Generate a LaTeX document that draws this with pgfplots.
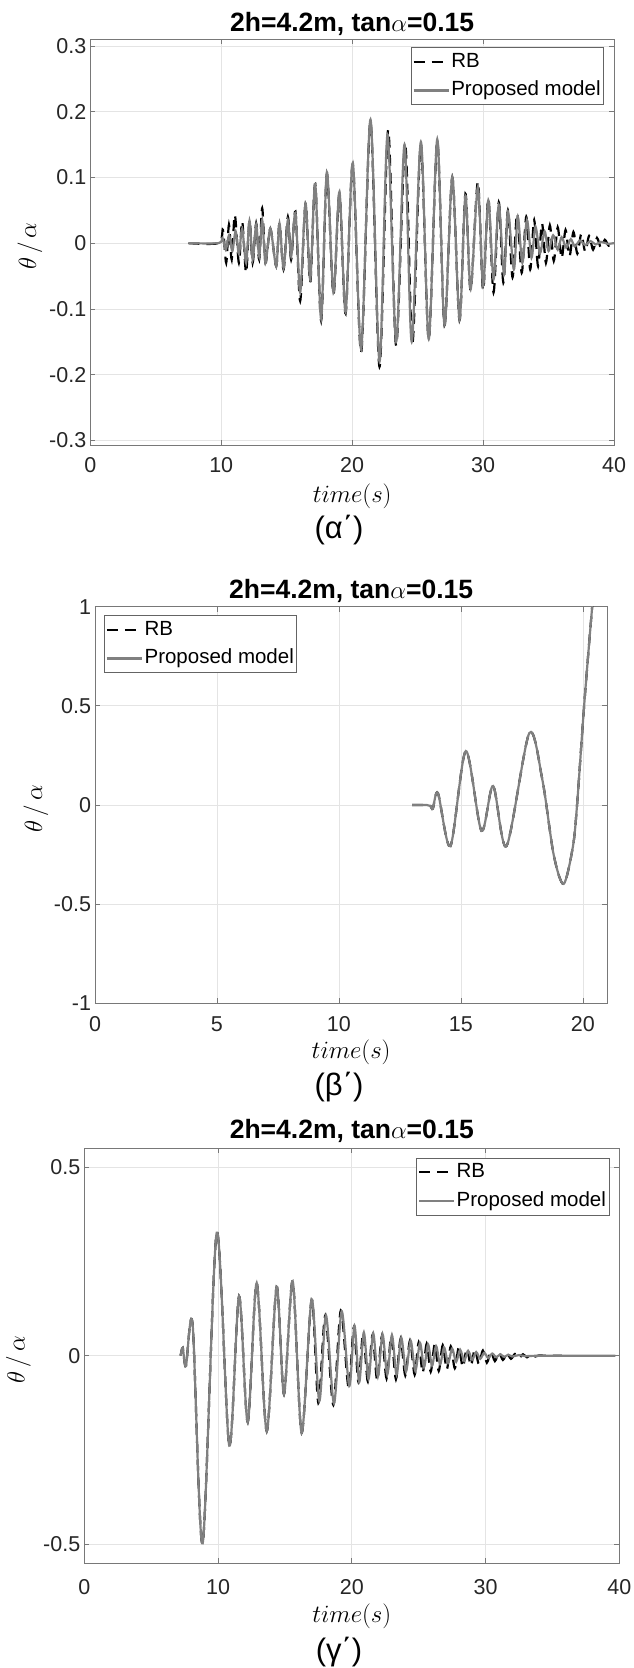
\documentclass[border=0pt]{standalone}
\usepackage{fontspec}
\setmainfont{Liberation Sans}
\usepackage{pgfplots}
\pgfplotsset{compat=1.18}
\definecolor{axgray}{RGB}{120,120,120}
\definecolor{gridgray}{RGB}{228,228,228}
\definecolor{tickcol}{RGB}{38,38,38}
\definecolor{propgray}{RGB}{128,128,128}
\definecolor{leggray}{RGB}{100,100,100}
\pgfplotsset{
  every axis title/.style={at={(axis description cs:0.5,1)}, anchor=base, font=\fontsize{26.5}{30}\selectfont\bfseries},
  every axis x label/.style={at={(axis description cs:0.5,0)}, anchor=center},
  every axis y label/.style={at={(axis description cs:-0.115,0.5)}, anchor=center, rotate=90},
  panel/.style={
    scale only axis, anchor=south west, clip=true,
    axis line style={draw=axgray, line width=0.8pt},
    every tick/.style={draw=axgray, line width=0.7pt},
    tick align=inside, major tick length=5pt,
    xmajorgrids, ymajorgrids,
    major grid style={draw=gridgray, line width=0.7pt},
    tick label style={font=\fontsize{21.5}{25}\selectfont, text=tickcol},
    yticklabel style={xshift=-0.5pt},
    label style={font=\fontsize{23.5}{28}\selectfont},
    legend style={font=\fontsize{20.5}{24}\selectfont, draw=leggray, line width=0.8pt,
      inner xsep=1.5pt, inner ysep=3pt, row sep=6pt, cells={anchor=west},
      nodes={inner sep=1.5pt, text height=15pt, text depth=4.5pt}},
    legend image code/.code={\draw[##1] (0pt,0pt) -- (35pt,0pt);},
    legend cell align=left,
    xlabel={$time(s)$}, ylabel={$\theta\,/\,\alpha$},
    title={2h=4.2m, tan$\alpha$=0.15},
  },
  rb/.style={black, line width=2.2pt, dash pattern=on 11pt off 7pt, smooth},
  pm/.style={propgray, line width=2.2pt, smooth},
}
\begin{document}
\begin{tikzpicture}
\useasboundingbox (0pt,0pt) rectangle (634pt,1668pt);
% ---------------- panel 1 ----------------
\begin{axis}[panel, at={(90.3pt,1223pt)}, width=523.7pt, height=405.7pt,
  xmin=0, xmax=40, ymin=-0.307, ymax=0.31,
  xtick={0,10,20,30,40}, xticklabels={0,10,20,30,40},
  ytick={-0.3,-0.2,-0.1,0,0.1,0.2,0.3}, yticklabels={-0.3,-0.2,-0.1,0,0.1,0.2,0.3},
  xticklabel style={anchor=base, yshift=-27.8pt},
  xlabel style={yshift=-51pt},
  ylabel style={at={(axis description cs:-0.1151,0.49)}},
  title style={yshift=7.5pt},
  legend style={at={(1,1)}, anchor=north east, xshift=-10pt, yshift=-8pt}]
\addplot[rb] coordinates {(7.5,0)(9.8,0)(10.13,0.02)(10.38,-0.03)(10.59,0.028)(10.8,-0.025)(11.04,0.043)(11.35,-0.03)(11.6,0.033)(11.9,-0.045)(12.16,0.035)(12.4,-0.03)(12.67,0.03)(12.9,-0.025)(13.13,0.053)(13.38,-0.03)(13.75,0.022)(14.2,-0.035)(14.45,0.03)(14.76,-0.04)(15.09,0.04)(15.34,-0.025)(15.67,0.048)(16.03,-0.088)(16.44,0.06)(16.8,-0.06)(17.18,0.09)(17.63,-0.118)(18.07,0.105)(18.57,-0.078)(19.03,0.075)(19.5,-0.107)(20.05,0.12)(20.69,-0.166)(21.4,0.185)(22.09,-0.188)(22.75,0.172)(23.36,-0.156)(24.05,0.15)(24.6,-0.153)(25.25,0.15)(25.85,-0.146)(26.5,0.155)(27.05,-0.125)(27.65,0.1)(28.2,-0.117)(28.65,0.075)(29.05,-0.072)(29.6,0.093)(30.0,-0.072)(30.4,0.068)(30.8,-0.075)(31.2,0.062)(31.55,-0.06)(31.9,0.05)(32.25,-0.052)(32.6,0.045)(32.95,-0.045)(33.3,0.04)(33.6,-0.04)(33.9,0.035)(34.2,-0.035)(34.5,0.03)(34.8,-0.03)(35.1,0.027)(35.4,-0.027)(35.7,0.024)(36.0,-0.023)(36.3,0.02)(36.6,-0.02)(36.9,0.017)(37.2,-0.016)(37.5,0.014)(37.8,-0.013)(38.1,0.011)(38.4,-0.01)(38.7,0.008)(39.0,-0.007)(39.3,0.005)(39.6,-0.004)(40,0)};
\addlegendentry{RB}
\addplot[pm] coordinates {(7.5,0)(9.8,0)(10.1,0.008)(10.35,-0.01)(10.6,0.012)(10.85,-0.012)(11.1,0.018)(11.35,-0.016)(11.6,0.022)(11.9,-0.03)(12.16,0.034)(12.4,-0.025)(12.67,0.028)(12.9,-0.02)(13.13,0.035)(13.38,-0.03)(13.75,0.022)(14.2,-0.035)(14.45,0.03)(14.76,-0.038)(15.09,0.035)(15.34,-0.02)(15.67,0.046)(16.03,-0.075)(16.44,0.06)(16.8,-0.055)(17.18,0.09)(17.63,-0.115)(18.07,0.108)(18.57,-0.075)(19.03,0.078)(19.5,-0.105)(20.05,0.122)(20.69,-0.161)(21.4,0.188)(22.09,-0.18)(22.7,0.165)(23.36,-0.15)(24.0,0.15)(24.55,-0.15)(25.25,0.154)(25.85,-0.146)(26.5,0.158)(27.05,-0.124)(27.65,0.1)(28.2,-0.116)(28.65,0.072)(29.05,-0.07)(29.6,0.085)(30.0,-0.065)(30.4,0.065)(30.8,-0.055)(31.2,0.058)(31.6,-0.048)(31.9,0.048)(32.35,-0.04)(32.65,0.04)(33.0,-0.03)(33.35,0.035)(33.7,-0.022)(34.0,0.025)(34.35,-0.015)(34.7,0.018)(35.0,-0.012)(35.35,0.012)(35.7,-0.01)(36.0,0.009)(36.35,-0.007)(36.7,0.006)(37.0,-0.005)(37.4,0.004)(37.8,-0.003)(38.2,0.003)(38.6,-0.002)(39.0,0.002)(39.5,-0.001)(40,0)};
\addlegendentry{Proposed model}
\end{axis}
% ---------------- panel 2 ----------------
\begin{axis}[panel, at={(95pt,664.7pt)}, width=512.3pt, height=396.6pt,
  xmin=0, xmax=21, ymin=-1, ymax=1,
  xtick={0,5,10,15,20}, xticklabels={0,5,10,15,20},
  ytick={-1,-0.5,0,0.5,1}, yticklabels={-1,-0.5,0,0.5,1},
  xticklabel style={anchor=base, yshift=-28.4pt},
  xlabel style={yshift=-49pt},
  ylabel style={at={(axis description cs:-0.1154,0.49)}},
  title style={yshift=7.7pt},
  legend style={at={(0,1)}, anchor=north west, xshift=9pt, yshift=-8.6pt}]
\addplot[rb] coordinates {(13.0,0)(13.6,0)(13.75,-0.005)(13.85,-0.018)(14.06,0.059)(14.57,-0.207)(15.2,0.272)(15.84,-0.13)(16.32,0.096)(16.87,-0.207)(17.8,0.362)(18.34,0.126)(18.8,-0.25)(19.21,-0.398)(19.59,-0.21)(19.76,0)(20.05,0.5)(20.38,1.0)(20.6,1.3)};
\addlegendentry{RB}
\addplot[pm] coordinates {(13.0,0)(13.6,0)(13.75,-0.005)(13.85,-0.018)(14.06,0.059)(14.57,-0.207)(15.2,0.272)(15.84,-0.13)(16.32,0.096)(16.87,-0.207)(17.8,0.362)(18.34,0.126)(18.8,-0.25)(19.21,-0.398)(19.59,-0.21)(19.76,0)(20.05,0.5)(20.38,1.0)(20.6,1.3)};
\addlegendentry{Proposed model}
\end{axis}
% ---------------- panel 3 ----------------
\begin{axis}[panel, at={(84.3pt,104.7pt)}, width=535pt, height=415pt,
  xmin=0, xmax=40, ymin=-0.55, ymax=0.55,
  xtick={0,10,20,30,40}, xticklabels={0,10,20,30,40},
  ytick={-0.5,0,0.5}, yticklabels={-0.5,0,0.5},
  xticklabel style={anchor=base, yshift=-31.3pt},
  xlabel style={yshift=-52.5pt},
  ylabel style={at={(axis description cs:-0.1232,0.49)}},
  title style={yshift=9.5pt},
  legend style={at={(1,1)}, anchor=north east, xshift=-10pt, yshift=-9.4pt}]
\addplot[rb] coordinates {(7.2,0)(7.36,0.021)(7.6,-0.027)(8.1,0.083)(8.85,-0.497)(9.9,0.326)(10.84,-0.238)(11.57,0.158)(12.22,-0.176)(12.89,0.193)(13.64,-0.2)(14.38,0.183)(14.93,-0.102)(15.58,0.198)(16.25,-0.204)(17.0,0.149)(17.5,-0.125)(18.02,0.107)(18.62,-0.13)(19.18,0.12)(19.76,-0.085)(20.15,0.075)(20.5,-0.07)(20.85,0.06)(21.2,-0.068)(21.55,0.055)(21.9,-0.065)(22.25,0.052)(22.6,-0.06)(22.95,0.05)(23.3,-0.062)(23.65,0.045)(24.0,-0.052)(24.35,0.04)(24.7,-0.05)(25.0,0.035)(25.3,-0.045)(25.6,0.032)(25.9,-0.042)(26.2,0.03)(26.5,-0.04)(26.8,0.028)(27.1,-0.036)(27.4,0.025)(27.7,-0.033)(28.0,0.022)(28.3,-0.03)(28.6,0.02)(28.9,-0.026)(29.2,0.017)(29.5,-0.022)(29.8,0.014)(30.1,-0.018)(30.4,0.011)(30.7,-0.014)(31.0,0.009)(31.3,-0.011)(31.6,0.007)(31.9,-0.008)(32.2,0.005)(32.5,-0.006)(32.8,0.004)(33.1,-0.004)(33.4,0.003)(33.7,-0.002)(34.0,0.001)(34.5,0)(35.7,0)};
\addlegendentry{RB}
\addplot[pm] coordinates {(7.2,0)(7.36,0.021)(7.6,-0.027)(8.1,0.083)(8.85,-0.497)(9.9,0.326)(10.84,-0.238)(11.57,0.158)(12.22,-0.176)(12.89,0.193)(13.64,-0.2)(14.38,0.183)(14.93,-0.102)(15.58,0.198)(16.25,-0.204)(17.0,0.149)(17.57,-0.12)(18.07,0.107)(18.67,-0.126)(19.24,0.118)(19.81,-0.08)(20.2,0.08)(20.55,-0.07)(20.9,0.062)(21.25,-0.062)(21.6,0.06)(21.95,-0.055)(22.3,0.057)(22.65,-0.05)(23.0,0.055)(23.35,-0.05)(23.7,0.048)(24.05,-0.042)(24.4,0.04)(24.75,-0.04)(25.1,0.034)(25.4,-0.03)(25.7,0.03)(26.0,-0.026)(26.3,0.026)(26.6,-0.022)(26.9,0.022)(27.2,-0.019)(27.5,0.019)(27.8,-0.016)(28.1,0.016)(28.4,-0.013)(28.7,0.013)(29.0,-0.01)(29.3,0.01)(29.6,-0.008)(29.9,0.008)(30.2,-0.006)(30.5,0.006)(30.8,-0.004)(31.1,0.004)(31.4,-0.003)(31.7,0.003)(32.0,-0.002)(32.5,0.002)(33.0,-0.001)(34,0)(39.7,0)};
\addlegendentry{Proposed model}
\end{axis}
% ---------------- captions ----------------
\node[font=\fontsize{31}{36}\selectfont] at (339pt,1138pt) {(α΄)};
\node[font=\fontsize{31}{36}\selectfont] at (339pt,581pt) {(β΄)};
\node[font=\fontsize{31}{36}\selectfont] at (339pt,16pt) {(γ΄)};
\end{tikzpicture}
\end{document}
